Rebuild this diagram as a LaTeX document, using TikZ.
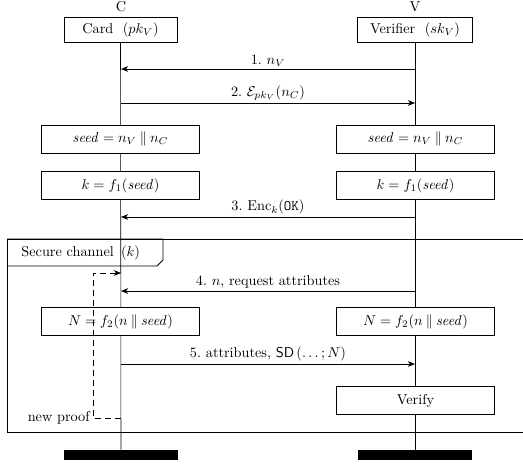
\documentclass[tikz,border=0pt]{standalone}
\usetikzlibrary{arrows.meta,backgrounds}
\begin{document}
\begin{tikzpicture}[x=0.7pt,y=-0.7pt,
  line width=0.55pt,
  actor/.style={draw,fill=white,minimum width=79pt,minimum height=17.5pt,inner sep=2pt},
  act/.style={draw,fill=white,minimum width=111pt,minimum height=19.5pt,inner sep=2pt},
  bar/.style={fill=black,draw=none,minimum width=80pt,minimum height=7pt,inner sep=0pt},
  msg/.style={-{Stealth[length=5pt,width=4pt,inset=1.5pt]}},
  lbl/.style={above,inner sep=1.5pt}]
\useasboundingbox (0,0) rectangle (523,463);
% headers
\node (Clab) at (121,7) {C};
\node (Vlab) at (415,7) {V};
\node[actor] (card) at (120.5,29.5) {Card\ \ $(pk_V)$};
\node[actor,minimum width=80pt] (ver) at (415,29.5) {Verifier\ \ $(sk_V)$};
% bars
\node[bar] (barC) at (121,455) {};
\node[bar] (barV) at (415,455) {};
% lifelines
\begin{scope}[on background layer]
\draw (card.south) -- (barC.north);
\draw (ver.south) -- (barV.north);
\end{scope}
% message 1
\coordinate (C1) at (121,69); \coordinate (V1) at (415,69);
\draw[msg] (V1) -- node[lbl]{1.\ $n_V$} (C1);
% message 2
\coordinate (C2) at (121,103); \coordinate (V2) at (415,103);
\draw[msg] (C2) -- node[lbl]{2.\ $\mathcal{E}_{pk_V}(n_C)$} (V2);
% seed
\node[act] (seedC) at (120.5,139) {$\mathit{seed} = n_V \mathbin{\|} n_C$};
\node[act] (seedV) at (415.5,139) {$\mathit{seed} = n_V \mathbin{\|} n_C$};
% k
\node[act] (kC) at (120.5,185.5) {$k = f_1(\mathit{seed})$};
\node[act] (kV) at (415.5,185.5) {$k = f_1(\mathit{seed})$};
% message 3
\coordinate (C3) at (121,217); \coordinate (V3) at (415,217);
\draw[msg] (V3) -- node[lbl]{3.\ $\mathrm{Enc}_k(\texttt{OK})$} (C3);
% secure channel frame
\coordinate (F1) at (7,239); \coordinate (F2) at (524,239);
\coordinate (F3) at (7,432); \coordinate (F4) at (524,432);
\draw (F2) -- (F1) -- (F3) -- (F4);
\draw (F1) -- (163,239) -- (163,260) -- (157,266) -- (7,266);
\node[anchor=west,inner sep=0pt] (sc) at (21,253) {Secure channel\enspace$(k)$};
% message 4
\coordinate (C4) at (121,291); \coordinate (V4) at (415,291);
\draw[msg] (V4) -- node[lbl]{4.\ $n$, request attributes} (C4);
% N boxes
\node[act] (NC) at (120.5,321.5) {$N = f_2(n \mathbin{\|} \mathit{seed})$};
\node[act] (NV) at (415.5,321.5) {$N = f_2(n \mathbin{\|} \mathit{seed})$};
% message 5
\coordinate (C5) at (121,364); \coordinate (V5) at (415,364);
\draw[msg] (C5) -- node[lbl]{5.\ attributes, $\mathsf{SD}\,(\ldots;N)$} (V5);
% verify
\node[act] (verify) at (415.5,400.5) {Verify};
% new proof loop
\coordinate (L1) at (121,418); \coordinate (L2) at (93,418);
\coordinate (L3) at (93,273); \coordinate (L4) at (121,273);
\draw[dashed,dash pattern=on 4pt off 3pt,msg] (L1) -- (L2) -- (L3) -- (L4);
\node[anchor=east,inner sep=2pt] (np) at (L2) {new proof};
\end{tikzpicture}
\end{document}
